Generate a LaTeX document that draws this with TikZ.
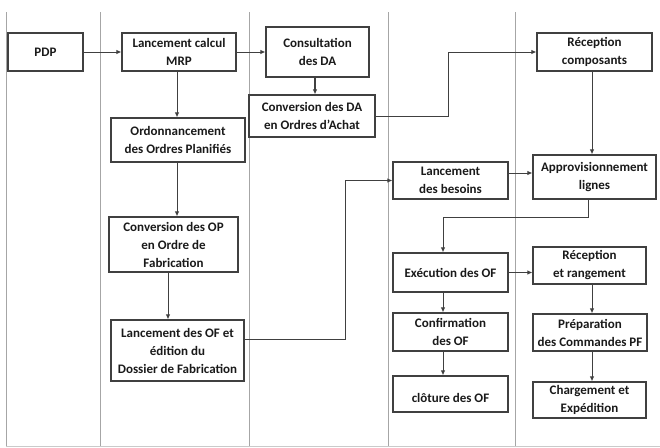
\documentclass[tikz,border=0pt]{standalone}
\usepackage{fontspec}
\setmainfont{Carlito}
\usetikzlibrary{arrows.meta}
\definecolor{boxline}{HTML}{404040}
\definecolor{laneline}{HTML}{A6A6A6}
\definecolor{txt}{HTML}{1A1A1A}
\tikzset{
  stepbox/.style={draw=boxline, line width=1.2pt, fill=white, inner sep=1pt,
    align=center, font=\bfseries\fontsize{13}{18}\selectfont, text=txt},
  flow/.style={draw=boxline, line width=1pt, -{Latex[length=5pt,width=4.5pt]}},
  lane/.style={draw=laneline, line width=0.9pt},
}
\newcommand{\stepnode}[6]{%
  \node[stepbox, minimum width=#4pt, minimum height=#5pt] (#1) at (#2,#3) {#6};}
\begin{document}
\begin{tikzpicture}[x=1pt,y=-1pt]
\useasboundingbox (0,0) rectangle (660,447);
% swimlane separators
\foreach \lx in {6,100,249,388,515} \draw[lane] (\lx,12) -- (\lx,446);
\draw[lane, draw=laneline!60] (6,446) -- (660,446);

% process steps
\stepnode{pdp}{45.5}{52}{75}{38}{PDP}
\stepnode{mrp}{179}{52}{114}{38}{Lancement calcul\\MRP}
\stepnode{ordo}{178}{140}{134}{44}{Ordonnancement\\des Ordres Planifiés}
\stepnode{convop}{173.5}{244.5}{129}{55}{Conversion des OP\\en Ordre de\\Fabrication}
\stepnode{lancof}{177.5}{350.5}{133}{61}{Lancement des OF et\\édition du\\Dossier de Fabrication}
\stepnode{consult}{317.5}{52}{103}{50}{Consultation\\des DA}
\stepnode{convda}{312}{116}{126}{42}{Conversion des DA\\en Ordres d’Achat}
\stepnode{recomp}{594.5}{52}{115}{38}{Réception\\composants}
\stepnode{appro}{594.5}{177}{123}{44}{Approvisionnement\\lignes}
\stepnode{besoins}{450.5}{180.5}{115}{37}{Lancement\\des besoins}
\stepnode{exec}{450.5}{272.5}{115}{39}{Exécution des OF}
\stepnode{recrang}{589.5}{265.5}{113}{37}{Réception\\et rangement}
\stepnode{confirm}{450.5}{332}{115}{38}{Confirmation\\des OF}
\stepnode{cloture}{450.5}{394}{115}{36}{\mbox{}\\clôture des OF}
\stepnode{prep}{590}{332.5}{114}{37}{Préparation\\des Commandes PF}
\stepnode{charg}{589.5}{400}{113}{36}{Chargement et\\Expédition}

% routing points
\coordinate (k1) at (448,0);
\coordinate (k2) at (345,0);
\coordinate (k3) at (443,217);

% connectors
\draw[flow] (pdp.east) -- (mrp.west);
\draw[flow] (mrp.east) -- (consult.west);
\draw[flow] ([xshift=-2pt]mrp.south) -- ([xshift=-2pt]mrp.south |- ordo.north);
\draw[flow] ([xshift=-1pt]ordo.south) -- ([xshift=-1pt]ordo.south |- convop.north);
\draw[flow] ([xshift=-5.5pt]convop.south) -- ([xshift=-5.5pt]convop.south |- lancof.north);
\draw[flow, line width=2pt] ([xshift=-2.5pt]consult.south) -- ([xshift=-2.5pt]consult.south |- convda.north);
\draw[flow] (convda.east) -- (convda.east -| k1) |- (recomp.west);
\draw[flow] ([xshift=-2.5pt]recomp.south) -- ([xshift=-2.5pt]recomp.south |- appro.north);
\draw[flow] ([yshift=11.5pt]lancof.east) -- ([yshift=11.5pt]lancof.east -| k2) |- (besoins.west);
\draw[flow] ([yshift=7.5pt]besoins.east) -- ([yshift=7.5pt]besoins.east -| appro.west);
\draw[flow] ([xshift=-6.5pt]appro.south) |- (k3) -- (k3 |- exec.north);
\draw[flow] (exec.east) -- (exec.east -| recrang.west);
\draw[flow] (k3 |- exec.south) -- (k3 |- confirm.north);
\draw[flow] (k3 |- confirm.south) -- (k3 |- cloture.north);
\draw[flow] ([xshift=2.5pt]recrang.south) -- ([xshift=2.5pt]recrang.south |- prep.north);
\draw[flow] ([xshift=2pt]prep.south) -- ([xshift=2pt]prep.south |- charg.north);
\end{tikzpicture}
\end{document}
